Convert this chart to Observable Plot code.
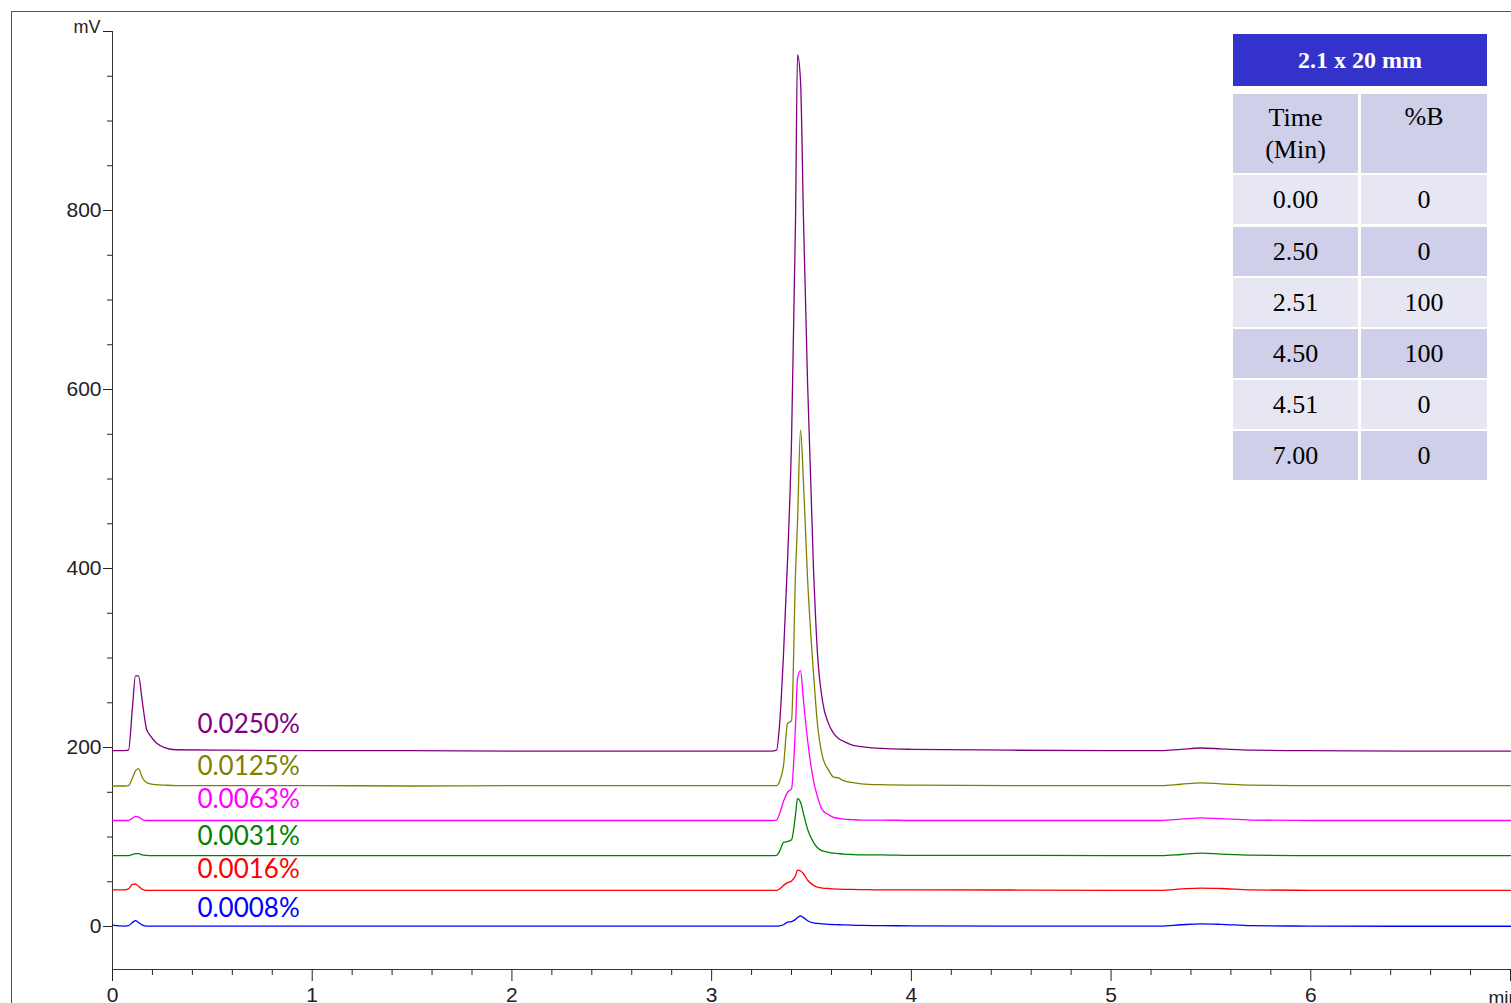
<!DOCTYPE html>
<html>
<head>
<meta charset="utf-8">
<script src="https://cdn.jsdelivr.net/npm/d3@7"></script>
<script src="https://cdn.jsdelivr.net/npm/@observablehq/plot@0.6"></script>
<style>
  html, body { margin: 0; padding: 0; background: #fff; }
  #wrap { position: relative; width: 1511px; height: 1003px; overflow: hidden; background: #fff; }
  #frame { position: absolute; left: 11px; top: 11px; width: 1510px; height: 1000px;
           border-left: 1px solid #555; border-top: 1px solid #555; box-sizing: border-box; pointer-events: none; }
  .cell { position: absolute; display: flex; align-items: center; justify-content: center;
          font-family: "Liberation Serif", "Times New Roman", serif; font-size: 26px; color: #000; text-align: center; }
</style>
</head>
<body>
<div id="wrap"><div id="frame"></div></div>
<script>
// ---- Data ----
const times = [0, 0.06, 0.08, 0.1, 0.115, 0.13, 0.15, 0.17, 0.19, 0.22,
  0.26, 0.32, 0.6, 1.0, 1.5, 2.0, 2.5, 3.0, 3.3, 3.325,
  3.34, 3.36, 3.38, 3.4, 3.42, 3.43, 3.445, 3.46, 3.48, 3.51,
  3.53, 3.555, 3.585, 3.61, 3.635, 3.66, 3.7, 3.75, 3.85, 4.0,
  4.5, 5.0, 5.25, 5.35, 5.45, 5.55, 5.7, 6.0, 6.5, 7.0];

const s0250 = [196.5, 196.5, 197, 245, 280, 280, 250, 221, 213, 205,
  200, 197.5, 197, 196.5, 196.5, 196, 196, 196, 196, 197,
  225, 305, 409, 543, 789, 974, 945, 789, 610, 400,
  305, 252, 227, 216, 210, 207, 203, 201, 199, 198,
  197, 196.5, 196.5, 198, 199.5, 198.5, 197, 196.5, 196, 196];
const s0125 = [157, 157, 157.5, 166, 174, 176.5, 166, 161, 159.5, 158.5,
  158, 157.5, 157.5, 157.5, 157, 157.5, 157.5, 157.5, 157.5, 157.5,
  162, 180, 227, 230, 395, 452, 555, 495, 390, 283,
  226, 190, 175, 167, 166, 163, 161, 159.5, 158.5, 158,
  157.5, 157.5, 157.5, 159, 160.5, 159.5, 158, 157.5, 157.5, 157.5];
const s0063 = [118.5, 118.5, 118.5, 121, 123, 122.5, 119.5, 118.5, 118.5, 118.5,
  118.5, 118.5, 118.5, 118.5, 118.5, 118.5, 118.5, 118.5, 118.5, 119,
  126, 140, 150, 154, 225, 277, 286, 252, 209, 163,
  145, 130, 125, 122, 121, 120, 119.5, 119, 119, 118.5,
  118.5, 118.5, 118.5, 120, 121.5, 120.5, 119, 118.5, 118.5, 118.5];
const s0031 = [79.3, 79.3, 79.3, 80.5, 81.5, 81.5, 80, 79.5, 79.3, 79.3,
  79.3, 79.3, 79.3, 79.3, 79.3, 79.3, 79.3, 79.3, 79.3, 79.5,
  84, 94, 95, 97, 125, 143, 139, 126, 109, 94,
  88, 84.5, 83, 82, 81.5, 81, 80.5, 80, 80, 79.5,
  79.5, 79.3, 79.3, 80.5, 82, 81, 79.8, 79.3, 79.3, 79.3];
const s0016 = [41, 41, 42, 47, 47.5, 45, 41.5, 40.5, 40.5, 40.5,
  40.5, 40.5, 40.5, 40.5, 40.3, 40.3, 40.3, 40.3, 40.3, 40.5,
  42, 46, 49, 51, 57, 63, 62, 59, 52, 46,
  44, 43, 42.5, 42, 41.8, 41.6, 41.5, 41.3, 41, 41,
  40.8, 40.5, 40.5, 42, 43, 42.5, 41, 40.5, 40.5, 40.5];
const s0008 = [1.5, 0.5, 1, 4.5, 6.5, 4.5, 1.5, 0.5, 0.5, 0.5,
  0.5, 0.5, 0.5, 0.5, 0.5, 0.5, 0.5, 0.5, 0.5, 0.5,
  0.8, 2, 5, 5.5, 8, 10, 12, 10, 6.5, 4,
  3.5, 3, 2.5, 2.2, 2, 1.8, 1.5, 1.2, 1, 0.8,
  0.5, 0.5, 0.5, 2, 3, 2.5, 1, 0.5, 0.3, 0.3];

const seriesNames = ["0.0250%", "0.0125%", "0.0063%", "0.0031%", "0.0016%", "0.0008%"];
const seriesColors = ["#800080", "#808000", "#ff00ff", "#008000", "#ff0000", "#0000ff"];
const seriesValues = [s0250, s0125, s0063, s0031, s0016, s0008];
const labelX = [0.425, 0.425, 0.425, 0.425, 0.425, 0.425];
const labelY = [226, 179, 142, 100.5, 64, 20];

const yTicks = [0, 200, 400, 600, 800];
const xTicks = [0, 1, 2, 3, 4, 5, 6];
const yUnit = "mV";
const xUnit = "min";

const tableTitle = "2.1 x 20 mm";
const tableHead = ["Time<br>(Min)", "%B"];
const gradTime = ["0.00", "2.50", "2.51", "4.50", "4.51", "7.00"];
const gradB = ["0", "0", "100", "100", "0", "0"];

// ---- Chart ----
const lineMarks = seriesValues.map((vals, i) =>
  Plot.line(times.map((t, j) => ({t, v: vals[j]})), {x: "t", y: "v", stroke: seriesColors[i], strokeWidth: 1.3, curve: "monotone-x"})
);
const labelData = seriesNames.map((name, i) => ({name, x: labelX[i], y: labelY[i], c: seriesColors[i]}));

const minorY = d3.range(50, 1000, 50).filter(d => d % 200 !== 0);
const minorX = d3.range(0.2, 7, 0.2).map(d => +d.toFixed(1)).filter(d => Math.abs(d - Math.round(d)) > 1e-6);

const chart = Plot.plot({
  width: 1511,
  height: 1003,
  marginLeft: 112,
  marginRight: 1,
  marginTop: 31,
  marginBottom: 34,
  style: {fontFamily: "'Liberation Sans', Arial, sans-serif", fontSize: "21px", color: "#222", background: "#fff", overflow: "hidden"},
  x: {domain: [0, 7]},
  y: {domain: [-48, 1000]},
  marks: [
    Plot.axisY({ticks: yTicks, tickSize: 9, tickPadding: 2, fontSize: 21, tickFormat: d => String(d), label: null}),
    Plot.axisY({ticks: [1000], tickSize: 9, tickFormat: () => "", label: null}),
    Plot.axisY({ticks: minorY, tickSize: 5, tickFormat: () => "", label: null}),
    Plot.axisX({ticks: xTicks, tickSize: 12, tickPadding: 6, fontSize: 21, tickFormat: d => String(d), label: null}),
    Plot.axisX({ticks: [7], tickSize: 12, tickFormat: () => "", label: null}),
    Plot.axisX({ticks: minorX, tickSize: 6, tickFormat: () => "", label: null}),
    Plot.ruleX([0], {stroke: "#333"}),
    Plot.ruleY([-48], {stroke: "#333"}),
    Plot.text([yUnit], {text: d => d, frameAnchor: "top-left", lineAnchor: "middle", dx: -12, dy: -4, textAnchor: "end", fontSize: 18}),
    Plot.text([xUnit], {text: d => d, frameAnchor: "bottom-right", lineAnchor: "middle", dx: -22, dy: 28, textAnchor: "start", fontSize: 19}),
    ...lineMarks,
    Plot.text(labelData, {x: "x", y: "y", text: "name", fill: "c", textAnchor: "start", fontSize: 26, fontFamily: "Lato, 'Open Sans', sans-serif"})
  ]
});
chart.style.position = "absolute";
chart.style.left = "0px";
chart.style.top = "0px";
const wrap = document.getElementById("wrap");
wrap.insertBefore(chart, wrap.firstChild);

// ---- Gradient table (inset) ----
function cell(html, left, top, w, h, bg, extra) {
  const d = document.createElement("div");
  d.className = "cell";
  d.style.left = left + "px"; d.style.top = top + "px";
  d.style.width = w + "px"; d.style.height = h + "px";
  d.style.background = bg;
  if (extra) Object.assign(d.style, extra);
  d.innerHTML = html;
  wrap.appendChild(d);
}
const dark = "#cfcfea", light = "#e7e7f4";
cell(tableTitle, 1233, 34, 254, 52, "#3333cc", {color: "#fff", fontWeight: "bold", fontSize: "24px"});
cell(tableHead[0], 1233, 94, 125, 79, dark, {lineHeight: "32px"});
cell(tableHead[1], 1361, 94, 126, 79, dark, {alignItems: "flex-start", paddingTop: "7px", boxSizing: "border-box", lineHeight: "32px"});
const rowTops = [175, 227, 278, 329, 380, 431];
gradTime.forEach((t, i) => {
  const bg = i % 2 === 0 ? light : dark;
  cell(t, 1233, rowTops[i], 125, 49, bg);
  cell(gradB[i], 1361, rowTops[i], 126, 49, bg);
});
</script>
</body>
</html>
